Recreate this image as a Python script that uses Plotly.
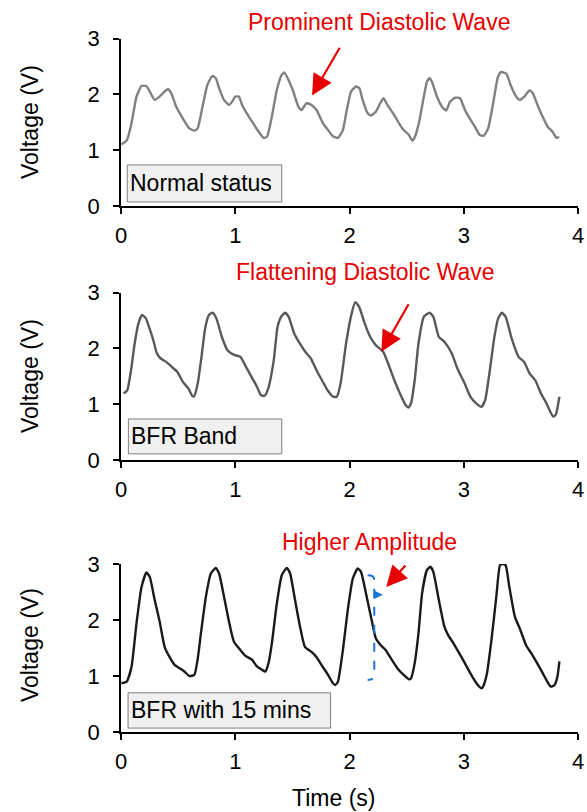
import plotly.graph_objects as go

# ---------------- data ----------------
t_normal = [0.0, 0.05, 0.09, 0.134, 0.178, 0.22, 0.25, 0.293, 0.336, 0.38, 0.409, 0.438, 0.481, 0.539, 0.597, 0.64, 0.669, 0.712, 0.755, 0.799, 0.828, 0.857, 0.9, 0.944, 0.972, 1.0, 1.03, 1.059, 1.10, 1.146, 1.204, 1.247, 1.276, 1.319, 1.363, 1.406, 1.43, 1.464, 1.507, 1.551, 1.579, 1.623, 1.666, 1.71, 1.768, 1.811, 1.854, 1.898, 1.941, 1.97, 2.013, 2.056, 2.086, 2.114, 2.158, 2.187, 2.23, 2.268, 2.297, 2.331, 2.39, 2.461, 2.52, 2.548, 2.568, 2.606, 2.65, 2.678, 2.70, 2.72, 2.765, 2.808, 2.846, 2.88, 2.924, 2.967, 3.01, 3.054, 3.097, 3.14, 3.175, 3.213, 3.257, 3.30, 3.329, 3.372, 3.415, 3.459, 3.487, 3.531, 3.574, 3.604, 3.647, 3.69, 3.734, 3.777, 3.812, 3.835]
v_normal = [1.10, 1.18, 1.48, 1.96, 2.15, 2.15, 2.05, 1.90, 1.96, 2.05, 2.09, 2.02, 1.78, 1.57, 1.39, 1.35, 1.39, 1.78, 2.17, 2.33, 2.29, 2.11, 1.90, 1.81, 1.87, 1.96, 1.96, 1.81, 1.66, 1.51, 1.33, 1.22, 1.24, 1.60, 2.08, 2.35, 2.39, 2.26, 2.05, 1.78, 1.72, 1.84, 1.81, 1.72, 1.48, 1.36, 1.25, 1.22, 1.36, 1.66, 2.05, 2.14, 2.11, 1.90, 1.66, 1.62, 1.69, 1.84, 1.93, 1.81, 1.63, 1.39, 1.27, 1.17, 1.22, 1.48, 1.96, 2.23, 2.29, 2.23, 1.96, 1.78, 1.71, 1.87, 1.94, 1.93, 1.72, 1.56, 1.42, 1.27, 1.26, 1.39, 1.84, 2.32, 2.40, 2.37, 2.14, 1.96, 1.90, 1.96, 2.07, 2.02, 1.80, 1.60, 1.42, 1.33, 1.22, 1.24]

t_bfr = [0.021, 0.053, 0.086, 0.118, 0.151, 0.183, 0.216, 0.248, 0.281, 0.313, 0.346, 0.394, 0.443, 0.492, 0.54, 0.589, 0.622, 0.638, 0.67, 0.703, 0.735, 0.768, 0.80, 0.833, 0.881, 0.93, 0.995, 1.044, 1.093, 1.141, 1.19, 1.222, 1.255, 1.287, 1.336, 1.369, 1.401, 1.434, 1.466, 1.515, 1.564, 1.612, 1.661, 1.71, 1.758, 1.807, 1.856, 1.888, 1.921, 1.969, 2.018, 2.05, 2.083, 2.132, 2.18, 2.229, 2.294, 2.343, 2.392, 2.44, 2.489, 2.515, 2.538, 2.57, 2.603, 2.651, 2.70, 2.733, 2.781, 2.83, 2.895, 2.944, 3.008, 3.057, 3.106, 3.155, 3.187, 3.22, 3.268, 3.301, 3.333, 3.366, 3.415, 3.48, 3.528, 3.577, 3.626, 3.675, 3.723, 3.782, 3.805, 3.837]
v_bfr = [1.195, 1.25, 1.61, 2.09, 2.45, 2.60, 2.54, 2.36, 2.15, 1.91, 1.82, 1.76, 1.67, 1.58, 1.40, 1.28, 1.15, 1.14, 1.37, 1.85, 2.36, 2.60, 2.64, 2.54, 2.21, 1.97, 1.88, 1.85, 1.67, 1.49, 1.31, 1.165, 1.15, 1.28, 1.79, 2.39, 2.57, 2.64, 2.57, 2.27, 2.09, 1.94, 1.82, 1.61, 1.43, 1.25, 1.135, 1.135, 1.37, 2.09, 2.63, 2.83, 2.75, 2.45, 2.21, 2.06, 1.94, 1.70, 1.43, 1.195, 0.99, 0.94, 1.02, 1.43, 2.09, 2.57, 2.64, 2.57, 2.21, 2.12, 1.91, 1.64, 1.37, 1.135, 1.02, 0.955, 1.075, 1.49, 2.21, 2.54, 2.64, 2.57, 2.21, 1.85, 1.76, 1.55, 1.43, 1.195, 1.02, 0.78, 0.81, 1.135]

t_bfr15 = [0.0, 0.048, 0.091, 0.134, 0.178, 0.221, 0.25, 0.293, 0.337, 0.38, 0.423, 0.467, 0.51, 0.553, 0.597, 0.64, 0.669, 0.698, 0.742, 0.785, 0.828, 0.857, 0.90, 0.944, 0.987, 1.045, 1.088, 1.146, 1.189, 1.233, 1.262, 1.29, 1.319, 1.363, 1.406, 1.45, 1.479, 1.522, 1.566, 1.609, 1.666, 1.71, 1.753, 1.811, 1.854, 1.875, 1.898, 1.941, 1.984, 2.028, 2.071, 2.10, 2.143, 2.187, 2.23, 2.273, 2.317, 2.36, 2.418, 2.473, 2.522, 2.538, 2.57, 2.603, 2.635, 2.677, 2.707, 2.733, 2.781, 2.83, 2.863, 2.911, 2.976, 3.025, 3.074, 3.123, 3.155, 3.171, 3.203, 3.242, 3.285, 3.317, 3.34, 3.366, 3.398, 3.447, 3.496, 3.545, 3.593, 3.642, 3.691, 3.739, 3.762, 3.795, 3.82, 3.837]
v_bfr15 = [0.87, 0.90, 1.17, 1.94, 2.59, 2.85, 2.77, 2.36, 1.97, 1.52, 1.34, 1.20, 1.14, 1.08, 1.00, 1.02, 1.29, 1.76, 2.42, 2.83, 2.93, 2.83, 2.42, 1.97, 1.61, 1.46, 1.36, 1.29, 1.17, 1.11, 1.08, 1.23, 1.58, 2.30, 2.80, 2.93, 2.83, 2.36, 1.88, 1.52, 1.43, 1.34, 1.20, 1.02, 0.87, 0.84, 0.90, 1.46, 2.18, 2.74, 2.92, 2.86, 2.48, 2.06, 1.67, 1.55, 1.46, 1.32, 1.14, 1.02, 0.94, 0.96, 1.23, 1.76, 2.48, 2.89, 2.95, 2.86, 2.36, 1.88, 1.73, 1.58, 1.35, 1.17, 0.99, 0.84, 0.78, 0.82, 1.05, 1.64, 2.42, 2.98, 3.0, 2.98, 2.60, 2.06, 1.82, 1.55, 1.40, 1.23, 1.05, 0.87, 0.81, 0.84, 0.99, 1.26]

x_ticks = [0, 1, 2, 3, 4]
y_ticks = [0, 1, 2, 3]
panel_labels = ["Normal status", "BFR Band", "BFR with 15 mins"]
callout_texts = ["Prominent Diastolic Wave", "Flattening Diastolic Wave", "Higher Amplitude"]
# arrow tips / tails in data units (x, y)
arrow_tips = [(1.671, 1.98), (2.278, 1.94), (2.321, 2.59)]
arrow_tails = [(1.921, 2.86), (2.524, 2.82), (2.50, 3.00)]
# label box extents in data units (x0, x1, y0, y1)
label_boxes = [(0.053, 1.406, 0.072, 0.736), (0.063, 1.406, 0.11, 0.735), (0.06, 1.833, 0.07, 0.70)]
# amplitude bracket (panel 3) in data units
bracket_x = 2.216
bracket_hook_x = 2.158
bracket_top = 2.80
bracket_bottom = 0.93
bracket_mid = 2.45
bracket_arrow_x = 2.29

W, H = 587, 812
FONT = "Liberation Sans, Arial, sans-serif"
RED = "#e60000"
line_colors = ["#808080", "#595959", "#1a1a1a"]
series = [(t_normal, v_normal), (t_bfr, v_bfr), (t_bfr15, v_bfr15)]

# pixel layout of each panel (top y of value 3, bottom y of value 0)
x_left_px, x_right_px = 121.2, 578.0
panel_px = [(38.5, 206.0), (292.7, 460.0), (564.0, 732.0)]
callout_px = [(379, 21.7), (365.5, 272), (369.5, 541.7)]
ytitle_px = [122, 376, 645]

fig = go.Figure()
for i, (t, v) in enumerate(series):
    sfx = "" if i == 0 else str(i + 1)
    fig.add_trace(go.Scatter(x=t, y=v, mode="lines", xaxis="x" + sfx, yaxis="y" + sfx,
                             line=dict(color=line_colors[i], width=2.4, shape="spline", smoothing=0.5),
                             hoverinfo="skip", showlegend=False))

layout = dict(width=W, height=H, margin=dict(l=0, r=0, t=0, b=0),
              paper_bgcolor="white", plot_bgcolor="white", showlegend=False,
              font=dict(family=FONT, color="black", size=22))

annotations = []
shapes = []
for i in range(3):
    sfx = "" if i == 0 else str(i + 1)
    top, bot = panel_px[i]
    xd = [x_left_px / W, x_right_px / W]
    yd = [1 - bot / H, 1 - top / H]
    layout["xaxis" + sfx] = dict(domain=xd, anchor="y" + sfx, range=[0, 4], tickvals=x_ticks,
                                 showline=True, linecolor="black", linewidth=2, ticks="outside",
                                 ticklen=6, tickwidth=2, tickcolor="black", showgrid=False,
                                 zeroline=False, automargin=False, ticklabeloverflow="allow",
                                 ticklabelstandoff=3,
                                 tickfont=dict(family=FONT, size=22, color="black"))
    layout["yaxis" + sfx] = dict(domain=yd, anchor="x" + sfx, range=[0, 3], tickvals=y_ticks,
                                 showline=True, linecolor="black", linewidth=2, ticks="outside",
                                 ticklen=6, tickwidth=2, tickcolor="black", showgrid=False,
                                 zeroline=False, automargin=False, ticklabelstandoff=9,
                                 tickfont=dict(family=FONT, size=22, color="black"))
    # y title
    annotations.append(dict(text="Voltage (V)", xref="paper", yref="paper", x=30 / W,
                            y=1 - ytitle_px[i] / H, textangle=-90, showarrow=False,
                            font=dict(family=FONT, size=23, color="black"),
                            xanchor="center", yanchor="middle"))
    # red callout text
    cx, cy = callout_px[i]
    annotations.append(dict(text=callout_texts[i], xref="paper", yref="paper", x=cx / W,
                            y=1 - cy / H, showarrow=False, xanchor="center", yanchor="middle",
                            font=dict(family=FONT, size=23, color=RED)))
    # red arrow
    tx, ty = arrow_tips[i]
    ax, ay = arrow_tails[i]
    annotations.append(dict(text="", x=tx, y=ty, ax=ax, ay=ay, xref="x" + sfx, yref="y" + sfx,
                            axref="x" + sfx, ayref="y" + sfx, showarrow=True, arrowhead=2,
                            arrowsize=1.9, arrowwidth=2.2, arrowcolor=RED, standoff=0))
    # label box
    x0, x1, y0, y1 = label_boxes[i]
    shapes.append(dict(type="rect", xref="x" + sfx, yref="y" + sfx, x0=x0, x1=x1, y0=y0, y1=y1,
                       fillcolor="#f0f0f0", line=dict(color="#7f7f7f", width=1), layer="above"))
    annotations.append(dict(text=panel_labels[i], xref="x" + sfx, yref="y" + sfx,
                            x=x0 + 0.005, y=(y0 + y1) / 2, showarrow=False, xanchor="left",
                            yanchor="middle", font=dict(family=FONT, size=23, color="black")))

# x title
annotations.append(dict(text="Time (s)", xref="paper", yref="paper", x=333 / W, y=1 - 798 / H,
                        showarrow=False, xanchor="center", yanchor="middle",
                        font=dict(family=FONT, size=23, color="black")))

# blue dashed amplitude bracket in panel 3
BLUE = "#1f72d6"
path = (f"M {bracket_hook_x},{bracket_top} Q {bracket_x},{bracket_top} {bracket_x},{bracket_top - 0.08} "
        f"L {bracket_x},{bracket_bottom + 0.08} Q {bracket_x},{bracket_bottom} {bracket_hook_x},{bracket_bottom}")
shapes.append(dict(type="path", path=path, xref="x3", yref="y3",
                   line=dict(color=BLUE, width=2, dash="dash")))
annotations.append(dict(text="", x=bracket_arrow_x, y=bracket_mid, ax=bracket_x, ay=bracket_mid,
                        xref="x3", yref="y3", axref="x3", ayref="y3", showarrow=True,
                        arrowhead=2, arrowsize=1.0, arrowwidth=1.8, arrowcolor=BLUE, standoff=0))

layout["annotations"] = annotations
layout["shapes"] = shapes
fig.update_layout(**layout)
fig.write_html("out.html")
